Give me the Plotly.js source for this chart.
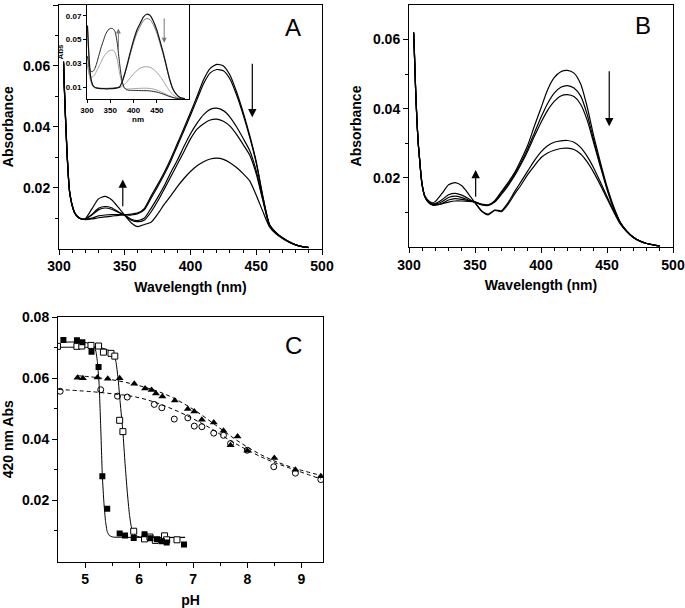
<!DOCTYPE html>
<html><head><meta charset="utf-8">
<script src="https://cdn.plot.ly/plotly-3.0.1.min.js"></script>
<style>html,body{margin:0;padding:0;background:#fff}#chart{width:685px;height:608px}</style>
</head><body><div id="chart"></div>
<script>
// ---------- Panel A / B spectra (nm) ----------
const wavelength = [303.5,304,305,306,307,308,309,310,312,315,318,320,325,330,335,340,345,350,355,360,365,370,375,380,385,390,395,400,405,410,415,420,425,430,435,440,445,450,455,460,465,470,475,480,485,490];
const specA1 = [0.0615,0.054,0.043,0.033,0.025,0.019,0.0163,0.0143,0.0117,0.0102,0.0096,0.0095,0.0097,0.0101,0.0104,0.0106,0.0109,0.0111,0.0113,0.0117,0.0132,0.0172,0.021,0.025,0.0295,0.0345,0.0395,0.0447,0.050,0.0555,0.0592,0.0605,0.0600,0.0570,0.0515,0.0448,0.0372,0.0285,0.0172,0.0080,0.0053,0.0035,0.0022,0.0012,0.0006,0.0003];
const specA2 = [0.0612,0.0538,0.0428,0.0328,0.0248,0.019,0.0163,0.0143,0.0117,0.0102,0.0096,0.0096,0.0100,0.0107,0.0110,0.0111,0.0111,0.0111,0.0110,0.0114,0.0128,0.0165,0.0203,0.0243,0.0287,0.0337,0.0387,0.0438,0.0490,0.0542,0.0577,0.0588,0.0584,0.0557,0.0505,0.0440,0.0366,0.0281,0.0170,0.0079,0.0052,0.0035,0.0022,0.0012,0.0006,0.0003];
const specA3 = [0.061,0.0535,0.0425,0.0325,0.0245,0.0188,0.0162,0.0142,0.0116,0.0101,0.0096,0.0097,0.0110,0.0127,0.0133,0.0129,0.0119,0.0109,0.0096,0.0092,0.0100,0.0132,0.0167,0.0206,0.0250,0.0290,0.0335,0.0377,0.0412,0.0440,0.0457,0.0461,0.0453,0.0432,0.0400,0.0362,0.0322,0.0255,0.0163,0.0078,0.0051,0.0034,0.0022,0.0012,0.0006,0.0003];
const specA4 = [0.0608,0.0533,0.0423,0.0323,0.0243,0.0187,0.0161,0.0141,0.0116,0.0101,0.0096,0.0097,0.0112,0.0132,0.0138,0.0134,0.0121,0.0109,0.0093,0.0088,0.0094,0.0120,0.0155,0.0195,0.0236,0.0277,0.0318,0.0360,0.0392,0.0410,0.0422,0.0425,0.0418,0.0402,0.0375,0.0342,0.0307,0.0245,0.0158,0.0077,0.0050,0.0034,0.0021,0.0012,0.0006,0.0003];
const specA5 = [0.0605,0.053,0.042,0.032,0.0242,0.0186,0.016,0.014,0.0116,0.0101,0.0097,0.0098,0.0130,0.0163,0.0171,0.0160,0.0136,0.0109,0.0084,0.0072,0.0079,0.0086,0.0113,0.0145,0.0173,0.0203,0.0230,0.0253,0.0272,0.0285,0.0294,0.0297,0.0293,0.0282,0.0266,0.0246,0.0222,0.0175,0.0122,0.0072,0.0048,0.0033,0.0021,0.0012,0.0006,0.0003];

const specB1 = [0.0622,0.0575,0.046,0.037,0.030,0.0255,0.021,0.0178,0.0145,0.0128,0.0122,0.0122,0.0125,0.0130,0.0133,0.0133,0.0132,0.0130,0.0124,0.0122,0.0134,0.0160,0.0186,0.0215,0.0253,0.0295,0.0350,0.0402,0.0455,0.0490,0.0507,0.0511,0.0503,0.0472,0.0405,0.0320,0.0245,0.0175,0.0117,0.0072,0.0046,0.0028,0.0017,0.0010,0.0006,0.0003];
const specB2 = [0.0621,0.0573,0.0458,0.0368,0.030,0.0255,0.021,0.0178,0.0145,0.0128,0.0121,0.0121,0.0126,0.0136,0.0140,0.0138,0.0134,0.0130,0.0123,0.0121,0.0132,0.0156,0.0181,0.0210,0.0245,0.0285,0.0330,0.0375,0.0415,0.0445,0.0462,0.0467,0.0460,0.0437,0.0383,0.0308,0.0238,0.0170,0.0114,0.0071,0.0046,0.0028,0.0017,0.0010,0.0006,0.0003];
const specB3 = [0.0620,0.0572,0.0457,0.0367,0.030,0.0255,0.021,0.0178,0.0146,0.0129,0.0123,0.0124,0.0131,0.0143,0.0147,0.0143,0.0136,0.0130,0.0122,0.0120,0.0130,0.0152,0.0177,0.0206,0.0240,0.0278,0.0320,0.0360,0.0395,0.0421,0.0437,0.0441,0.0435,0.0413,0.0367,0.0300,0.0232,0.0167,0.0112,0.0070,0.0045,0.0028,0.0017,0.0010,0.0006,0.0003];
const specB4 = [0.0619,0.0571,0.0456,0.0366,0.030,0.0256,0.0211,0.0179,0.0147,0.0131,0.0125,0.0126,0.0137,0.0151,0.0155,0.0150,0.0140,0.0128,0.0105,0.0095,0.0107,0.0105,0.0128,0.0160,0.0190,0.0220,0.0250,0.0275,0.0293,0.0303,0.0307,0.0308,0.0303,0.0288,0.0262,0.0228,0.0188,0.0146,0.0105,0.0069,0.0045,0.0028,0.0017,0.0010,0.0006,0.0003];
const specB5 = [0.0618,0.0570,0.0455,0.0365,0.030,0.0256,0.0212,0.0180,0.0148,0.0133,0.0128,0.0132,0.0155,0.0180,0.0186,0.0177,0.0154,0.0128,0.0103,0.0093,0.0106,0.0102,0.0123,0.0153,0.0180,0.0210,0.0235,0.0258,0.0272,0.0280,0.0285,0.0286,0.0282,0.0269,0.0246,0.0215,0.0179,0.0140,0.0102,0.0067,0.0044,0.0027,0.0017,0.0010,0.0006,0.0003];

// ---------- Inset spectra ----------
const insetWavelength = [301,303,305,308,312,316,320,325,330,335,340,345,350,355,360,365,370,375,380,385,392,400,407,414,421,428,435,442,450,457,464,471,478,485,493,500,510];
const insetI1 = [0.062,0.045,0.031,0.018,0.012,0.0100,0.0094,0.0090,0.0088,0.0087,0.0086,0.0086,0.0087,0.0088,0.0090,0.0094,0.0101,0.0140,0.0200,0.0270,0.0380,0.0496,0.0580,0.0636,0.0690,0.0714,0.0705,0.0660,0.0580,0.0485,0.0384,0.0270,0.0160,0.0080,0.0034,0.0012,0.0003];
const insetI2 = [0.060,0.044,0.030,0.018,0.012,0.0100,0.0095,0.0092,0.0091,0.0090,0.0090,0.0090,0.0091,0.0092,0.0094,0.0097,0.0103,0.0140,0.0195,0.0262,0.0365,0.0475,0.0555,0.0610,0.0660,0.0678,0.0670,0.0630,0.0555,0.0465,0.0370,0.0262,0.0155,0.0078,0.0033,0.0012,0.0003];
const insetI3 = [0.030,0.025,0.020,0.015,0.011,0.0095,0.0090,0.0088,0.0088,0.0088,0.0088,0.0089,0.0090,0.0091,0.0092,0.0093,0.0096,0.0105,0.0120,0.0140,0.0175,0.0212,0.0240,0.0260,0.0270,0.0272,0.0268,0.0252,0.0225,0.0190,0.0150,0.0105,0.0065,0.0035,0.0015,0.0006,0.0002];
const insetI4 = [0.028,0.024,0.021,0.019,0.0185,0.020,0.023,0.027,0.031,0.035,0.038,0.040,0.0410,0.0412,0.0395,0.033,0.022,0.0135,0.0095,0.0085,0.0085,0.0087,0.0089,0.0090,0.0091,0.0091,0.0089,0.0084,0.0075,0.0064,0.0052,0.0038,0.0025,0.0014,0.0006,0.0003,0.0001];
const insetI5 = [0.036,0.030,0.026,0.0235,0.023,0.025,0.029,0.036,0.043,0.049,0.0545,0.0580,0.0594,0.0594,0.0570,0.047,0.030,0.016,0.0095,0.0078,0.0073,0.0072,0.0072,0.0071,0.0070,0.0070,0.0068,0.0064,0.0058,0.0050,0.0041,0.0030,0.0020,0.0012,0.0005,0.0002,0.0001];

// ---------- Panel C: 420 nm absorbance vs pH ----------
const pHFilledSq = [4.60,4.85,4.95,5.12,5.25,5.32,5.41,5.64,5.74,5.90,6.10,6.21,6.33,6.42,6.51,6.83];
const absFilledSq = [0.0725,0.0724,0.0717,0.0686,0.0636,0.0279,0.0173,0.0092,0.0085,0.0077,0.0089,0.0076,0.0073,0.0066,0.0062,0.0056];
const pHOpenSq = [4.49,4.85,4.94,5.11,5.25,5.34,5.48,5.55,5.64,5.70,5.90,6.10,6.20,6.30,6.47,6.51,6.70];
const absOpenSq = [0.0704,0.0704,0.0705,0.0707,0.0705,0.0685,0.0681,0.0672,0.0462,0.0425,0.0099,0.0074,0.0080,0.0069,0.0084,0.0071,0.0071];
const pHTriangle = [4.86,4.96,5.23,5.42,5.64,5.91,6.11,6.23,6.31,6.43,6.66,6.90,7.02,7.16,7.38,7.56,7.69,7.82,8.00,8.50,8.89,9.36];
const absTriangle = [0.0601,0.0600,0.0602,0.0598,0.0600,0.0582,0.0566,0.0561,0.0550,0.0540,0.0527,0.0499,0.0491,0.0464,0.0455,0.0428,0.0380,0.0409,0.0362,0.0339,0.0300,0.0279];
const pHCircle = [4.54,5.29,5.60,5.78,6.28,6.42,6.65,6.90,7.02,7.16,7.38,7.56,7.69,8.00,8.49,8.89,9.36];
const absCircle = [0.0557,0.0562,0.0541,0.0538,0.0514,0.0503,0.0466,0.0470,0.0443,0.0441,0.0420,0.0413,0.0386,0.0364,0.0310,0.0289,0.0268];

const fitFilledPH = [4.6,5.0,5.15,5.2,5.23,5.26,5.29,5.32,5.35,5.38,5.41,5.45,5.52,5.7,6.2,6.85];
const fitFilledAbs = [0.0718,0.0717,0.0708,0.0688,0.065,0.058,0.044,0.028,0.019,0.013,0.0098,0.0085,0.0080,0.0079,0.0079,0.0079];
const fitOpenPH = [4.5,5.0,5.3,5.45,5.52,5.57,5.61,5.65,5.7,5.74,5.78,5.82,5.86,5.92,6.05,6.85];
const fitOpenAbs = [0.0701,0.0701,0.0699,0.069,0.068,0.0655,0.060,0.052,0.0424,0.032,0.023,0.0155,0.011,0.0086,0.0079,0.0079];
const fitTrianglePH = [4.86,5.3,5.9,6.5,7.0,7.44,7.87,8.36,8.86,9.36];
const fitTriangleAbs = [0.0608,0.0600,0.0580,0.0546,0.0498,0.0443,0.0389,0.0340,0.0306,0.0282];
const fitCirclePH = [4.51,5.28,6.02,6.64,7.25,7.75,8.36,8.86,9.36];
const fitCircleAbs = [0.0563,0.0553,0.0535,0.0497,0.0443,0.0389,0.0334,0.0301,0.0270];

// ---------- tick labels ----------
const absTicks = [0.02,0.04,0.06,0.08];
const absTickText = ['0.02','0.04','0.06','0.08'];
const absMinor = [0.01,0.03,0.05,0.07];
const nmTicks = [300,350,400,450,500];
const nmTickText = ['300','350','400','450','500'];
const nmMinor = [310,320,330,340,360,370,380,390,410,420,430,440,460,470,480,490];
const pHTicks = [5,6,7,8,9];
const pHTickText = ['5','6','7','8','9'];
const pHMinor = [5.5,6.5,7.5,8.5];
const insetNmTicks = [300,350,400,450];
const insetAbsTicks = [0.01,0.03,0.05,0.07];

const FONT = 'Liberation Sans, Arial, sans-serif';
const W = 685, H = 608;
const px = (a,b) => [a/W, b/W];
const py = (top,bot) => [1-bot/H, 1-top/H];

function axis(domain, range, tv, tt, minorVals, fs, title, standoff) {
  const ax = {
    domain: domain, range: range, autorange: false,
    showline: true, linecolor: '#000', linewidth: 1, mirror: true,
    showgrid: false, zeroline: false,
    ticks: 'outside', ticklen: 5, tickwidth: 1, tickcolor: '#000',
    tickmode: 'array', tickvals: tv, ticktext: tt,
    tickfont: {family: FONT, size: fs, color: '#000', weight: 'bold'}
  };
  if (minorVals) ax.minor = {tickmode: 'array', tickvals: minorVals, ticks: 'outside', ticklen: 3, tickwidth: 1, tickcolor: '#000', showgrid: false};
  if (title) ax.title = {text: title, font: {family: FONT, size: fs, color: '#000', weight: 'bold'}, standoff: standoff};
  return ax;
}

function spec(x, y, xa, ya, w, c) {
  return {x: x, y: y, xaxis: xa, yaxis: ya, type: 'scatter', mode: 'lines',
    line: {color: c || '#000', width: w || 1.2, shape: 'spline', smoothing: 0.6}, hoverinfo: 'skip'};
}

const traces = [
  spec(wavelength, specA1, 'x', 'y'), spec(wavelength, specA2, 'x', 'y'), spec(wavelength, specA3, 'x', 'y'),
  spec(wavelength, specA4, 'x', 'y'), spec(wavelength, specA5, 'x', 'y'),
  spec(wavelength, specB1, 'x2', 'y2'), spec(wavelength, specB2, 'x2', 'y2'), spec(wavelength, specB3, 'x2', 'y2'),
  spec(wavelength, specB4, 'x2', 'y2'), spec(wavelength, specB5, 'x2', 'y2'),
  spec(insetWavelength, insetI3, 'x4', 'y4', 0.8, '#888'),
  spec(insetWavelength, insetI4, 'x4', 'y4', 0.8, '#888'),
  spec(insetWavelength, insetI2, 'x4', 'y4', 0.8, '#555'),
  spec(insetWavelength, insetI1, 'x4', 'y4', 1.2, '#111'),
  spec(insetWavelength, insetI5, 'x4', 'y4', 1.0, '#222'),
  {x: fitFilledPH, y: fitFilledAbs, xaxis: 'x3', yaxis: 'y3', mode: 'lines', line: {color: '#000', width: 1, shape: 'spline', smoothing: 0.5}},
  {x: fitOpenPH, y: fitOpenAbs, xaxis: 'x3', yaxis: 'y3', mode: 'lines', line: {color: '#000', width: 1, shape: 'spline', smoothing: 0.5}},
  {x: fitTrianglePH, y: fitTriangleAbs, xaxis: 'x3', yaxis: 'y3', mode: 'lines', line: {color: '#000', width: 1, dash: '4px,3px', shape: 'spline'}},
  {x: fitCirclePH, y: fitCircleAbs, xaxis: 'x3', yaxis: 'y3', mode: 'lines', line: {color: '#000', width: 1, dash: '4px,3px', shape: 'spline'}},
  {x: pHTriangle, y: absTriangle, xaxis: 'x3', yaxis: 'y3', mode: 'markers', marker: {symbol: 'triangle-up', size: 7, color: '#000'}},
  {x: pHCircle, y: absCircle, xaxis: 'x3', yaxis: 'y3', mode: 'markers', marker: {symbol: 'circle-open', size: 6, color: '#000', line: {width: 1}}},
  {x: pHOpenSq, y: absOpenSq, xaxis: 'x3', yaxis: 'y3', mode: 'markers', marker: {symbol: 'square', size: 6, color: '#fff', line: {width: 1, color: '#000'}}},
  {x: pHFilledSq, y: absFilledSq, xaxis: 'x3', yaxis: 'y3', mode: 'markers', marker: {symbol: 'square', size: 6, color: '#000'}}
];

function arrow(xr, yr, x, yHead, yTail, color, w, size) {
  return {xref: xr, yref: yr, axref: xr, ayref: yr, x: x, y: yHead, ax: x, ay: yTail,
    text: '', showarrow: true, arrowhead: 2, arrowsize: size || 1.4, arrowwidth: w || 1.2, arrowcolor: color || '#000'};
}
function letter(t, x, y) {
  return {xref: 'paper', yref: 'paper', x: x/W, y: 1-y/H, text: t, showarrow: false,
    xanchor: 'center', yanchor: 'middle', font: {family: FONT, size: 24, color: '#000'}};
}

const layout = {
  width: W, height: H, margin: {l: 0, r: 0, t: 0, b: 0},
  paper_bgcolor: '#fff', plot_bgcolor: 'rgba(0,0,0,0)', showlegend: false,
  xaxis: axis(px(59,322), [300,500], nmTicks, nmTickText, nmMinor, 14, 'Wavelength (nm)', 8),
  yaxis: axis(py(5,248.5), [0,0.08], absTicks, absTickText, absMinor, 14, 'Absorbance', 8),
  xaxis2: axis(px(409,673), [300,500], nmTicks, nmTickText, nmMinor, 14, 'Wavelength (nm)', 8),
  yaxis2: axis(py(5,247), [0,0.07], [0.02,0.04,0.06], ['0.02','0.04','0.06'], [0.01,0.03,0.05], 14, 'Absorbance', 8),
  xaxis3: axis(px(58,323), [4.5,9.4], pHTicks, pHTickText, pHMinor, 14, 'pH', 14),
  yaxis3: axis(py(317,561.5), [0,0.08], absTicks, absTickText, absMinor, 14, '420 nm Abs', 8),
  xaxis4: axis(px(87,189), [300,519], insetNmTicks, insetNmTicks.map(String), null, 8, 'nm', 2),
  yaxis4: axis(py(5,99), [0,0.0792], insetAbsTicks, insetAbsTicks.map(String), null, 8, 'Abs', 1),
  annotations: [
    arrow('x', 'y', 348.5, 0.0227, 0.0134),
    arrow('x', 'y', 447, 0.0431, 0.0612),
    arrow('x2', 'y2', 350.5, 0.0223, 0.0141),
    arrow('x2', 'y2', 451.7, 0.0349, 0.0513),
    arrow('x4', 'y4', 367.4, 0.0594, 0.040, '#777', 1, 1),
    arrow('x4', 'y4', 465.7, 0.0473, 0.0692, '#777', 1, 1),
    letter('A', 293, 27), letter('B', 643, 25), letter('C', 293, 345)
  ]
};
layout.xaxis4.ticklen = 3; layout.yaxis4.ticklen = 3;
layout.xaxis4.anchor = 'y4'; layout.yaxis4.anchor = 'x4';
layout.xaxis.anchor = 'y'; layout.yaxis.anchor = 'x';
layout.xaxis2.anchor = 'y2'; layout.yaxis2.anchor = 'x2';
layout.xaxis3.anchor = 'y3'; layout.yaxis3.anchor = 'x3';

Plotly.newPlot('chart', traces, layout, {staticPlot: true, displayModeBar: false});
</script>
</body></html>
